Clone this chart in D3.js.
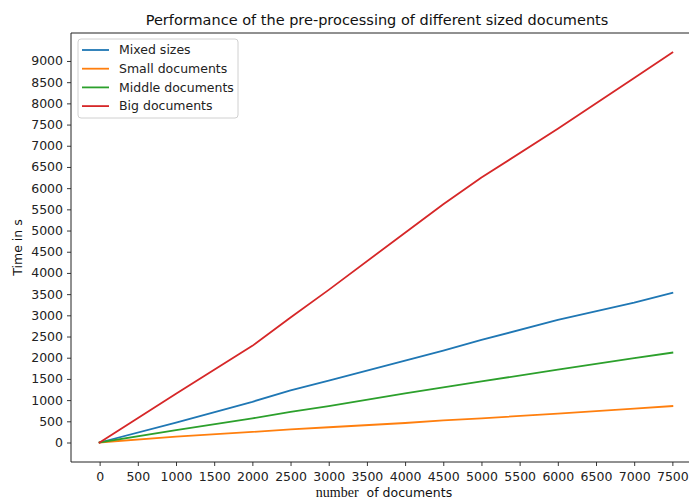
<!DOCTYPE html>
<html>
<head>
<meta charset="utf-8">
<script src="https://cdn.jsdelivr.net/npm/d3@7"></script>
<style>
  body { margin: 0; background: #fff; }
  svg { display: block; }
</style>
</head>
<body>
<svg></svg>
<script>
const docCounts = [0, 1000, 2000, 2500, 3000, 4000, 4500, 5000, 6000, 7000, 7500];
const mixedSizes = [0, 470, 960, 1230, 1460, 1930, 2170, 2420, 2890, 3300, 3530];
const smallDocs = [0, 140, 250, 310, 360, 460, 520, 570, 680, 800, 860];
const middleDocs = [0, 290, 570, 720, 860, 1160, 1300, 1440, 1720, 1990, 2120];
const bigDocs = [0, 1150, 2280, 2950, 3600, 4950, 5620, 6250, 7400, 8600, 9200];
const seriesNames = ["Mixed sizes", "Small documents", "Middle documents", "Big documents"];
const xTicks = d3.range(0, 7501, 500);
const yTicks = d3.range(0, 9001, 500);

const width = 689, height = 499;
const margin = { top: 33, right: -12, bottom: 37, left: 71 };
const colors = ["#1f77b4", "#ff7f0e", "#2ca02c", "#d62728"];
const font = "'DejaVu Sans', sans-serif";

const svg = d3.select("svg")
    .attr("width", width)
    .attr("height", height)
    .style("font-family", font);

const series = [mixedSizes, smallDocs, middleDocs, bigDocs].map((vals, i) => ({
    name: seriesNames[i],
    color: colors[i],
    points: vals.map((v, j) => ({ x: docCounts[j], y: v }))
}));

const yMax = d3.max(series, s => d3.max(s.points, p => p.y));
const xPad = 7500 * 0.05, yPad = yMax * 0.05;

const x = d3.scaleLinear()
    .domain([0 - xPad, 7500 + xPad])
    .range([margin.left, width - margin.right]);

const y = d3.scaleLinear()
    .domain([0 - yPad, yMax + yPad])
    .range([height - margin.bottom, margin.top]);

// lines
const line = d3.line().x(d => x(d.x)).y(d => y(d.y));
svg.selectAll(".series")
    .data(series)
    .join("path")
    .attr("d", d => line(d.points))
    .attr("fill", "none")
    .attr("stroke", d => d.color)
    .attr("stroke-width", 1.8)
    .attr("stroke-linejoin", "round")
    .attr("stroke-linecap", "square");

// axes
const xAxis = svg.append("g")
    .attr("transform", `translate(0,${height - margin.bottom})`)
    .call(d3.axisBottom(x).tickValues(xTicks).tickSize(4).tickPadding(4).tickFormat(d3.format("d")));
const yAxis = svg.append("g")
    .attr("transform", `translate(${margin.left},0)`)
    .call(d3.axisLeft(y).tickValues(yTicks).tickSize(4).tickPadding(4).tickFormat(d3.format("d")));

[xAxis, yAxis].forEach(g => {
    g.select(".domain").remove();
    g.selectAll("text").attr("font-size", "12.5px").attr("font-family", font).attr("fill", "#222");
    g.selectAll("line").attr("stroke", "#222").attr("stroke-width", 0.9);
});
xAxis.selectAll("text").attr("dy", "0.9em");

// spines
const sp = svg.append("g").attr("stroke", "#222").attr("stroke-width", 1);
sp.append("line").attr("x1", margin.left).attr("x2", margin.left)
    .attr("y1", margin.top).attr("y2", height - margin.bottom);
sp.append("line").attr("x1", margin.left).attr("x2", width - margin.right)
    .attr("y1", height - margin.bottom).attr("y2", height - margin.bottom);
sp.append("line").attr("x1", margin.left).attr("x2", width - margin.right)
    .attr("y1", margin.top).attr("y2", margin.top);
sp.append("line").attr("x1", width - margin.right).attr("x2", width - margin.right)
    .attr("y1", margin.top).attr("y2", height - margin.bottom);

// title
svg.append("text")
    .attr("x", 377)
    .attr("y", 25)
    .attr("text-anchor", "middle")
    .attr("font-size", "14.5px")
    .attr("fill", "#111")
    .text("Performance of the pre-processing of different sized documents");

// axis labels
const xl = svg.append("text")
    .attr("x", 384)
    .attr("y", 497)
    .attr("text-anchor", "middle")
    .attr("font-size", "12.5px")
    .attr("fill", "#111");
xl.append("tspan").attr("font-family", "'Liberation Serif', serif").attr("font-size", "14px").text("number");
xl.append("tspan").text("\u00a0 of documents");

svg.append("text")
    .attr("transform", `translate(22,${(margin.top + height - margin.bottom) / 2}) rotate(-90)`)
    .attr("text-anchor", "middle")
    .attr("font-size", "12.5px")
    .attr("fill", "#111")
    .text("Time in s");

// legend
const legend = svg.append("g").attr("transform", "translate(78,39)");
legend.append("rect")
    .attr("width", 160).attr("height", 79)
    .attr("rx", 3).attr("ry", 3)
    .attr("fill", "white").attr("fill-opacity", 0.8)
    .attr("stroke", "#d0d0d0");
const items = legend.selectAll(".item")
    .data(series)
    .join("g")
    .attr("transform", (d, i) => `translate(0,${11 + i * 18.7})`);
items.append("line")
    .attr("x1", 4).attr("x2", 31)
    .attr("stroke", d => d.color).attr("stroke-width", 1.8);
items.append("text")
    .attr("x", 41).attr("dy", "0.35em")
    .attr("font-size", "12.5px").attr("fill", "#222")
    .text(d => d.name);
</script>
</body>
</html>
